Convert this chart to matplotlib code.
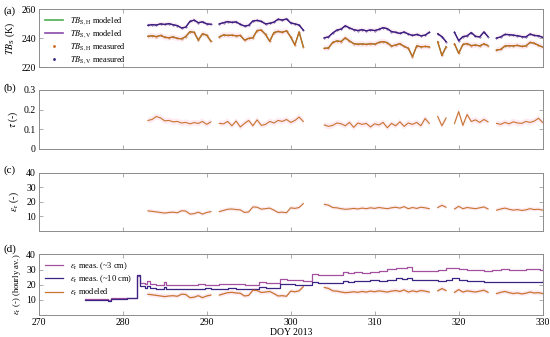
import numpy as np
import matplotlib
matplotlib.use('Agg')
import matplotlib.pyplot as plt
from matplotlib.lines import Line2D

plt.rcParams['font.family'] = ['Liberation Serif', 'DejaVu Serif']
plt.rcParams['mathtext.fontset'] = 'stix'

nan = np.nan

# half-day grid for the modeled / retrieved series (DOY 2013)
days = np.arange(283.0, 330.01, 0.5)

tb_v = [248.8, 249.3, 249.0, 249.8, 249.4, 250.0, 249.2, 248.6, 247.0, 247.5,
        251.5, 252.4, 250.6, 251.2, 249.8, 249.5, nan,
        249.8, 250.6, 251.4, 250.8, 251.2, 249.5, 248.3, 248.8, 251.8, 252.2,
        251.5, 249.8, 250.2, 251.0, 253.0, 252.4, 253.2, 250.5, 249.8, 249.0, 245.5,
        nan, nan, nan, nan,
        240.2, 240.8, 243.5, 245.5, 246.2, 248.5, 247.0, 245.8, 245.2, 245.8,
        245.0, 245.6, 245.2, 246.0, 247.2, 246.5, 244.5, 244.0, 243.2, 244.2,
        242.8, 241.8, 242.5, 241.6, 242.0, 244.0, nan,
        243.0, 241.0, 237.5, nan,
        244.0, 238.2, 241.0, 241.5, 243.8, 241.2, 240.8, 244.2, 241.0, nan,
        240.0, 240.8, 242.5, 242.4, 242.0, 241.6, 241.0, 240.8, 242.8, 241.8, 241.6, 240.5]

tb_h = [241.2, 241.6, 241.0, 241.8, 240.6, 240.2, 240.8, 239.8, 239.5, 241.0,
        244.4, 244.0, 238.6, 243.0, 242.0, 237.8, nan,
        240.8, 242.2, 241.8, 242.0, 241.6, 241.8, 238.6, 239.8, 240.2, 245.2,
        245.5, 242.5, 237.8, 243.8, 244.6, 244.0, 245.0, 240.8, 235.2, 244.2, 234.0,
        nan, nan, nan, nan,
        232.9, 233.2, 237.0, 238.0, 237.6, 240.2, 238.0, 236.2, 235.8, 236.0,
        235.6, 236.2, 235.8, 237.0, 237.6, 236.8, 234.5, 235.2, 236.2, 234.2,
        233.0, 227.1, 234.6, 234.0, 234.2, 234.0, nan,
        237.5, 228.0, 234.0, nan,
        236.0, 229.5, 235.6, 236.2, 234.8, 235.2, 234.6, 236.0, 234.8, nan,
        231.7, 232.2, 234.5, 234.8, 234.6, 235.0, 234.2, 234.6, 237.0, 236.4, 235.0, 233.8]

tau = [0.145, 0.150, 0.165, 0.158, 0.143, 0.145, 0.138, 0.140, 0.132, 0.135,
       0.128, 0.134, 0.130, 0.140, 0.125, 0.138, nan,
       0.130, 0.128, 0.140, 0.118, 0.142, 0.112, 0.130, 0.145, 0.118, 0.148,
       0.120, 0.125, 0.140, 0.132, 0.145, 0.140, 0.150, 0.135, 0.145, 0.162, 0.140,
       nan, nan, nan, nan,
       0.122, 0.115, 0.120, 0.132, 0.128, 0.118, 0.135, 0.110, 0.132, 0.125,
       0.130, 0.112, 0.128, 0.122, 0.135, 0.108, 0.130, 0.118, 0.138, 0.115,
       0.132, 0.125, 0.135, 0.118, 0.155, 0.130, nan,
       0.165, 0.118, 0.157, nan,
       0.130, 0.190, 0.120, 0.175, 0.140, 0.148, 0.135, 0.150, 0.138, nan,
       0.130, 0.125, 0.135, 0.128, 0.138, 0.132, 0.130, 0.140, 0.135, 0.142, 0.156, 0.135]

eps_mod = [13.7, 13.4, 13.0, 12.6, 12.2, 12.6, 12.8, 12.4, 13.8, 13.6,
           11.5, 11.8, 12.8, 11.5, 12.6, 13.2, nan,
           13.2, 14.0, 14.8, 15.0, 14.6, 14.4, 12.6, 13.0, 16.4, 16.2,
           14.9, 15.2, 15.6, 14.2, 12.6, 12.8, 12.4, 15.8, 15.4, 16.0, 18.7,
           nan, nan, nan, nan,
           18.2, 17.6, 16.0, 15.8, 15.2, 14.8, 15.0, 15.4, 15.0, 15.6,
           15.2, 15.8, 15.4, 16.0, 15.6, 15.2, 15.8, 16.2, 15.6, 16.6,
           15.2, 16.0, 15.4, 16.2, 15.8, 15.2, nan,
           16.0, 17.5, 16.2, nan,
           15.0, 16.8, 15.2, 16.0, 15.6, 15.2, 15.8, 16.4, 15.0, nan,
           14.2, 15.0, 15.6, 14.8, 14.2, 14.6, 14.0, 14.4, 15.2, 14.6, 14.8, 14.2]

# in-situ soil moisture sensors (hourly averages, sampled at change points)
meas_days = [275.5, 276.5, 277.5, 278.3, 278.6, 279.5, 280.5, 281.6, 281.75, 282.1,
             282.6, 282.9, 283.3, 284.0, 284.9, 285.2, 286.0, 287.0, 288.0, 289.0,
             289.8, 290.5, 291.5, 292.5, 293.5, 294.5, 295.5, 296.2, 297.0, 298.0,
             298.7, 299.5, 300.5, 301.5, 302.5, 303.2, 304.0, 305.0, 306.2, 306.8,
             307.5, 308.5, 309.5, 310.5, 311.5, 312.5, 313.2, 313.8, 314.5, 315.5,
             316.5, 317.5, 318.5, 319.2, 320.0, 321.0, 322.0, 323.0, 324.0, 325.0,
             326.0, 327.0, 328.0, 329.0, 329.7, 330.0]

eps_3cm = [10.6, 10.5, 10.4, 9.8, 11.0, 11.1, 11.2, 11.2, 25.5, 21.0,
           20.2, 22.6, 20.4, 20.0, 21.8, 20.0, 19.7, 19.6, 19.8, 20.2,
           19.8, 20.0, 20.4, 20.5, 20.2, 20.0, 20.1, 21.8, 21.4, 21.2,
           23.6, 23.2, 23.0, 22.8, 27.2, 26.6, 26.4, 26.2, 28.2, 27.6,
           28.4, 28.0, 28.6, 29.4, 30.2, 30.8, 31.0, 32.0, 29.2, 29.0,
           29.4, 29.6, 30.8, 31.2, 30.2, 29.6, 30.0, 29.4, 29.8, 30.2,
           30.0, 29.8, 30.4, 30.2, 29.8, 33.0]

eps_10cm = [10.2, 10.1, 10.0, 9.5, 10.8, 10.9, 11.0, 11.0, 26.5, 19.2,
            17.8, 19.0, 17.6, 17.4, 18.6, 17.4, 17.2, 17.3, 17.2, 17.4,
            17.6, 17.5, 17.3, 17.6, 17.5, 17.3, 17.4, 18.2, 17.9, 17.8,
            20.6, 20.2, 20.0, 19.9, 21.6, 21.2, 21.0, 20.9, 22.8, 22.0,
            22.5, 22.3, 23.0, 22.6, 23.2, 24.2, 23.8, 24.6, 23.4, 23.0,
            22.9, 22.8, 23.2, 24.4, 23.2, 22.6, 22.2, 22.0, 21.8, 21.7,
            21.6, 21.5, 21.6, 21.5, 22.0, 23.2]

c_h = '#c8661e'
c_v = '#35227f'
c_hmod = '#4caf50'
c_vmod = '#8a4aa8'
c_3 = '#a3509f'
c_10 = '#3a2585'
c_mod = '#c87530'
band = '#fdeaf2'
grey = '#8c8c8c'

fig = plt.figure(figsize=(5.5, 3.37), dpi=100)
L, W = 0.0704, 0.9163
boxes = [(0.801, 0.172), (0.558, 0.175), (0.315, 0.173), (0.065, 0.180)]
axs = [fig.add_axes([L, b, W, h]) for b, h in boxes]

for ax in axs:
    ax.set_xlim(270, 330)
    ax.set_xticks([270, 280, 290, 300, 310, 320, 330])
    ax.tick_params(direction='in', top=True, right=True, length=3, width=0.5,
                   color=grey, labelsize=7, pad=2)
    for s in ax.spines.values():
        s.set_color(grey)
        s.set_linewidth(0.7)
for ax in axs[:3]:
    ax.set_xticklabels([])

tbh = np.array(tb_h)
tbv = np.array(tb_v)
ta = np.array(tau)
em = np.array(eps_mod)

# (a)
ax = axs[0]
ax.fill_between(days, tbh - 2.0, tbh + 2.0, color=band, lw=0)
ax.fill_between(days, tbv - 1.5, tbv + 1.5, color=band, lw=0)
ax.plot(days, tbh, color=c_hmod, lw=0.9)
ax.plot(days, tbv, color=c_vmod, lw=0.9)
ax.plot(days, tbh, color=c_h, lw=0.9, marker='.', ms=0.6)
ax.plot(days, tbv, color=c_v, lw=0.9, marker='.', ms=0.6)
ax.set_ylim(220, 260)
ax.set_yticks([220, 240, 260])
ax.set_ylabel(r'$TB_{\mathrm{S}}$ (K)', fontsize=7, labelpad=3)
handles = [Line2D([], [], color=c_hmod, lw=1.2),
           Line2D([], [], color=c_vmod, lw=1.2),
           Line2D([], [], color=c_h, lw=0, marker='.', ms=2),
           Line2D([], [], color=c_v, lw=0, marker='.', ms=2)]
labels = [r'$TB_{\mathrm{S,H}}$ modeled', r'$TB_{\mathrm{S,V}}$ modeled',
          r'$TB_{\mathrm{S,H}}$ measured', r'$TB_{\mathrm{S,V}}$ measured']
ax.legend(handles, labels, loc='upper left', frameon=False, fontsize=6,
          handlelength=2.2, labelspacing=0.2, borderaxespad=0.3)

# (b)
ax = axs[1]
ax.fill_between(days, ta - 0.015, ta + 0.015, color=band, lw=0)
ax.plot(days, ta, color=c_mod, lw=0.8)
ax.set_ylim(0, 0.3)
ax.set_yticks([0, 0.1, 0.2, 0.3])
ax.set_yticklabels(['0', '0.1', '0.2', '0.3'])
ax.set_ylabel(r'$\tau$ (-)', fontsize=7, labelpad=3)

# (c)
ax = axs[2]
ax.fill_between(days, em - 1.3, em + 1.3, color=band, lw=0)
ax.plot(days, em, color=c_mod, lw=0.8)
ax.set_ylim(0, 40)
ax.set_yticks([10, 20, 30, 40])
ax.set_ylabel(r'$\epsilon_{\mathrm{r}}$ (-)', fontsize=7, labelpad=4)

# (d)
ax = axs[3]
ax.fill_between(days, em - 1.5, em + 1.5, color=band, lw=0)
ax.plot(meas_days, eps_3cm, color=c_3, lw=0.9, drawstyle='steps-post',
        label=r'$\epsilon_{\mathrm{r}}$ meas. (~3 cm)')
ax.plot(meas_days, eps_10cm, color=c_10, lw=0.9, drawstyle='steps-post',
        label=r'$\epsilon_{\mathrm{r}}$ meas. (~10 cm)')
ax.plot(days, em, color=c_mod, lw=0.9, label=r'$\epsilon_{\mathrm{r}}$ modeled')
ax.set_ylim(0, 40)
ax.set_yticks([10, 20, 30, 40])
ax.set_ylabel(r'$\epsilon_{\mathrm{r}}$ (-) (hourly av.)', fontsize=6.2, labelpad=2)
ax.set_xlabel('DOY 2013', fontsize=7, labelpad=1)
ax.legend(loc='upper left', frameon=False, fontsize=6, handlelength=2.2,
          labelspacing=0.2, borderaxespad=0.3)

for lab, y in zip(['(a)', '(b)', '(c)', '(d)'], [0.968, 0.738, 0.495, 0.262]):
    fig.text(0.006, y, lab, fontsize=8, va='center', ha='left')

fig.savefig('out.png', dpi=100)
